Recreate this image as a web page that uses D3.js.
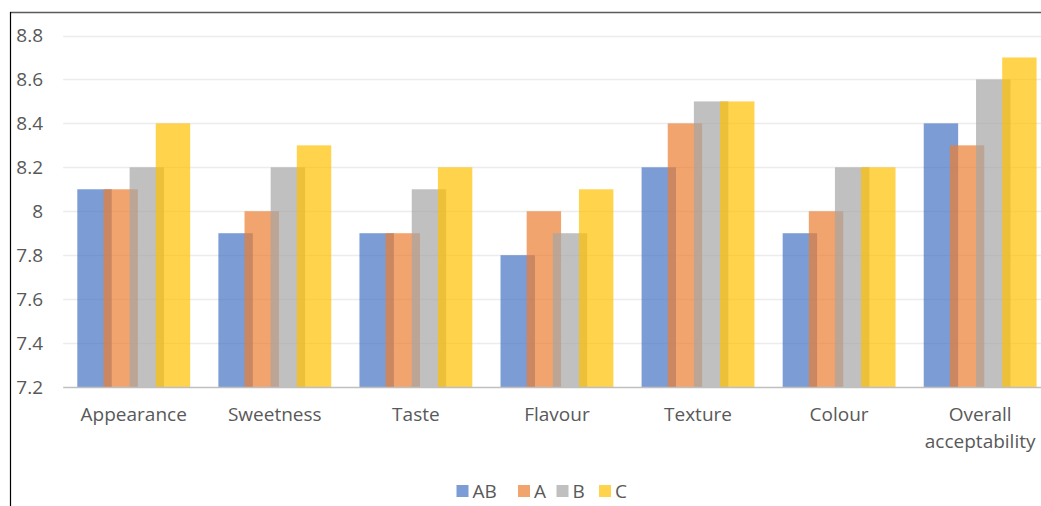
<!DOCTYPE html>
<html>
<head>
<meta charset="utf-8">
<script src="https://cdn.jsdelivr.net/npm/d3@7"></script>
<style>
  html, body { margin: 0; padding: 0; background: #fff; }
  svg { display: block; }
  text { font-family: "Open Sans", "Noto Sans", sans-serif; fill: #595959; }
</style>
</head>
<body>
<svg id="chart" width="1041" height="506"></svg>
<script>
// Sensory scores per attribute for each sample
const categories = ["Appearance", "Sweetness", "Taste", "Flavour", "Texture", "Colour", "Overall acceptability"];
const seriesNames = ["AB", "A", "B", "C"];
const valuesAB = [8.1, 7.9, 7.9, 7.8, 8.2, 7.9, 8.4];
const valuesA  = [8.1, 8.0, 7.9, 8.0, 8.4, 8.0, 8.3];
const valuesB  = [8.2, 8.2, 8.1, 7.9, 8.5, 8.2, 8.6];
const valuesC  = [8.4, 8.3, 8.2, 8.1, 8.5, 8.2, 8.7];
const yTicks = [7.2, 7.4, 7.6, 7.8, 8.0, 8.2, 8.4, 8.6, 8.8];
const colors = ["#4472C4", "#ED7D31", "#A5A5A5", "#FFC000"];

const series = [valuesAB, valuesA, valuesB, valuesC];

const svg = d3.select("#chart");
const W = 1041, H = 506;

// Plot area (the right edge runs past the visible frame)
const plot = { left: 63.2, right: 1050.7, top: 35.5, bottom: 387 };

const x = d3.scaleBand()
  .domain(categories)
  .range([plot.left, plot.right])
  .paddingInner(0.2)
  .paddingOuter(0.1);

const y = d3.scaleLinear()
  .domain([7.2, 8.8])
  .range([plot.bottom, plot.top]);

// Overlapping bars within a group
const groupW = x.bandwidth();
const barW = groupW * 0.305;
const barStep = (groupW - barW) / 3;

// Gridlines
svg.append("g")
  .selectAll("line")
  .data(yTicks.slice(1))
  .join("line")
  .attr("x1", plot.left)
  .attr("x2", W)
  .attr("y1", d => Math.round(y(d)) + 0.5)
  .attr("y2", d => Math.round(y(d)) + 0.5)
  .attr("stroke", "#ececec")
  .attr("stroke-width", 1.3);

// Bars
const barsG = svg.append("g");
series.forEach((vals, si) => {
  barsG.append("g")
    .selectAll("rect")
    .data(categories.map((c, i) => ({ c, v: vals[i] })))
    .join("rect")
    .attr("x", d => x(d.c) + si * barStep)
    .attr("y", d => y(d.v))
    .attr("width", barW)
    .attr("height", d => y(7.2) - y(d.v))
    .attr("fill", colors[si])
    .attr("fill-opacity", 0.7);
});

// Category axis line
svg.append("line")
  .attr("x1", plot.left)
  .attr("x2", W)
  .attr("y1", y(7.2) + 0.5)
  .attr("y2", y(7.2) + 0.5)
  .attr("stroke", "#bfbfbf")
  .attr("stroke-width", 1.5);

// Y tick labels
const fmt = d => String(+d.toFixed(1));
svg.append("g")
  .selectAll("text")
  .data(yTicks)
  .join("text")
  .attr("x", 43)
  .attr("y", d => y(d))
  .attr("dy", "0.35em")
  .attr("text-anchor", "end")
  .attr("font-size", 19)
  .text(fmt);

// Category labels (wrapped to fit the band)
const catG = svg.append("g");
categories.forEach(c => {
  const words = c.split(" ");
  const t = catG.append("text")
    .attr("x", x(c) + groupW / 2)
    .attr("y", 421)
    .attr("text-anchor", "middle")
    .attr("font-size", 19);
  words.forEach((w, i) => {
    t.append("tspan")
      .attr("x", x(c) + groupW / 2)
      .attr("dy", i === 0 ? 0 : 27)
      .text(w);
  });
});

// Legend
const legend = svg.append("g");
const legendX = [456.5, 518, 556.5, 599];
seriesNames.forEach((n, i) => {
  legend.append("rect")
    .attr("x", legendX[i])
    .attr("y", 485)
    .attr("width", 12)
    .attr("height", 12)
    .attr("fill", colors[i])
    .attr("fill-opacity", 0.7);
  legend.append("text")
    .attr("x", legendX[i] + 16)
    .attr("y", 497.5)
    .attr("font-size", 19)
    .text(n);
});

// Frame
svg.append("line")
  .attr("x1", 10).attr("x2", W)
  .attr("y1", 12.5).attr("y2", 12.5)
  .attr("stroke", "#5a5a5a").attr("stroke-width", 1.5);
svg.append("line")
  .attr("x1", 10.5).attr("x2", 10.5)
  .attr("y1", 12).attr("y2", H)
  .attr("stroke", "#000").attr("stroke-width", 1.2);
</script>
</body>
</html>
